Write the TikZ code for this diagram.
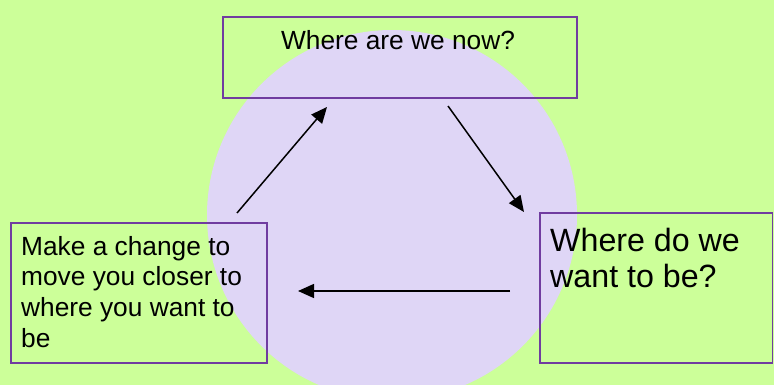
\documentclass[tikz,border=0pt]{standalone}
\usepackage{fontspec}
\setmainfont{Liberation Sans}
\usetikzlibrary{arrows.meta}
\definecolor{bggreen}{RGB}{204,255,153}
\definecolor{lav}{RGB}{223,214,246}
\definecolor{boxpurple}{RGB}{112,60,160}
\tikzset{
  box/.style={draw=boxpurple, line width=1.6pt, inner sep=0pt},
  conn/.style={line width=1.5pt, -{Triangle[length=16pt,width=14pt]}},
}
\begin{document}
\begin{tikzpicture}[x=1pt,y=-1pt]
\fill[bggreen] (0,0) rectangle (774,385);
\useasboundingbox (0,0) rectangle (774,385);
\fill[lav] (392,215) circle[radius=185];
% boxes
\draw[box] (223,17) rectangle (577,98);
\node[inner sep=0pt, anchor=base, font=\fontsize{26.3}{30}\selectfont] (tt) at (398,50) {Where are we now?};
\draw[box] (11,223) rectangle (267,363);
\node[inner sep=0pt, anchor=base west, align=left, font=\fontsize{26.3}{30.6}\selectfont] (lt) at (21,347) {Make a change to\\move you closer to\\where you want to\\be};
\draw[box] (540,213) rectangle (772.5,363);
\node[inner sep=0pt, anchor=base west, align=left, font=\fontsize{32.2}{35.5}\selectfont] (rt) at (550,287) {Where do we\\want to be?};
% arrows
\coordinate (a1s) at (237,213);
\coordinate (a1e) at (327,107);
\coordinate (a2s) at (448,106);
\coordinate (a2e) at (524,212);
\coordinate (a3s) at (510,291);
\coordinate (a3e) at (298,291);
\draw[conn] (a1s) -- (a1e);
\draw[conn] (a2s) -- (a2e);
\draw[conn] (a3s) -- (a3e);
\end{tikzpicture}
\end{document}
